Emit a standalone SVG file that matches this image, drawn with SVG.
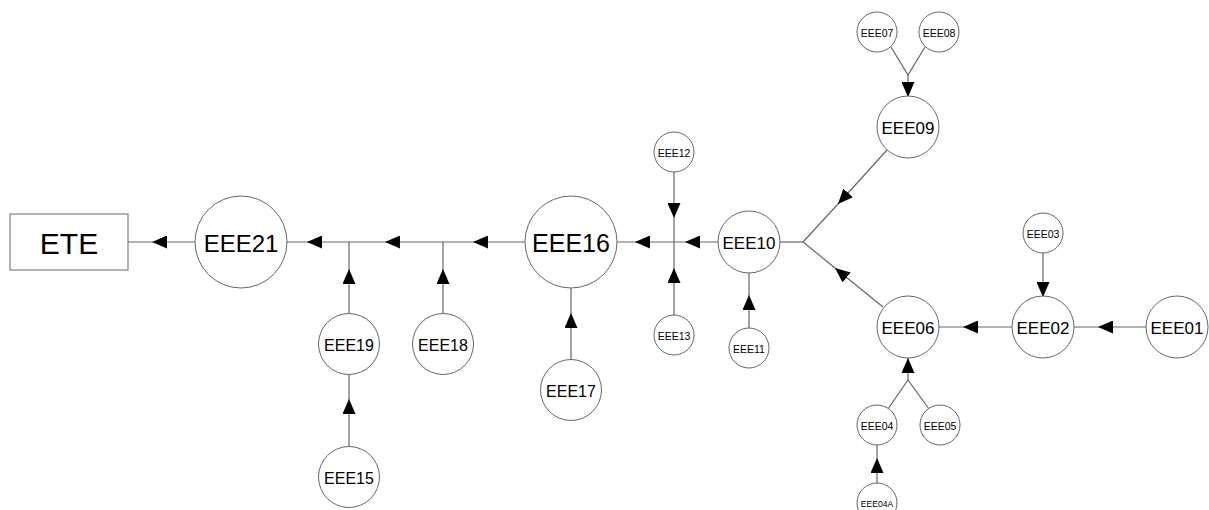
<svg xmlns="http://www.w3.org/2000/svg" width="1209" height="510" viewBox="0 0 1209 510">
<defs>
<marker id="arr" markerUnits="userSpaceOnUse" markerWidth="15" markerHeight="13" refX="15" refY="6.5" orient="auto">
<path d="M0,0 L15,6.5 L0,13 z" fill="#000"/>
</marker>
<style>
.n{fill:#fff;stroke:#666;stroke-width:1}
.c{fill:none;stroke:#666;stroke-width:1.2}
.m{marker-mid:url(#arr)}
.e{marker-end:url(#arr)}
text{font-family:"Liberation Sans",Arial,sans-serif;fill:#000;text-anchor:middle;dominant-baseline:central}
.xl{font-size:25px}
.l{font-size:17px}
.md{font-size:16px}
.s{font-size:10.5px}
.xs{font-size:8.6px}
</style>
</defs>
<rect width="1209" height="510" fill="#fff"/>
<g id="connectors">
<path class="c m" d="M195,242 L152,242 L128,242"/>
<path class="c m" d="M525,242 L473,242 L443,242"/>
<path class="c m" d="M443,242 L385,242 L349,242"/>
<path class="c m" d="M349,242 L307,242 L287,242"/>
<path class="c m" d="M349,313 L349,269 L349,242"/>
<path class="c m" d="M349,447 L349,399 L349,375"/>
<path class="c m" d="M443,313 L443,269 L443,242"/>
<path class="c m" d="M571,359 L571,313 L571,288"/>
<path class="c m" d="M674,242 L635,242 L617,242"/>
<path class="c m" d="M718,242 L685,242 L674,242"/>
<path class="c m" d="M674,172 L674,218 L674,242"/>
<path class="c m" d="M674,315 L674,268 L674,242"/>
<path class="c m" d="M749,328 L749,295 L749,273"/>
<path class="c" d="M780,242 L803,242"/>
<path class="c m" d="M887,150 L838,204 L803,242"/>
<path class="c m" d="M883,307 L835,268 L803,242"/>
<path class="c" d="M891,47 L908,75 L925,47"/>
<path class="c e" d="M908,75 L908,97"/>
<path class="c m" d="M1012,327 L963,327 L939,327"/>
<path class="c m" d="M1146,327 L1098,327 L1074,327"/>
<path class="c e" d="M1043,253 L1043,297"/>
<path class="c" d="M888,409 L908,380 L929,409"/>
<path class="c e" d="M908,380 L908,358"/>
<path class="c m" d="M877,483 L877,458 L877,445"/>
</g>
<g id="ETE"><rect class="n" x="10" y="214" width="118" height="56"/><text class="xl" x="69" y="243" style="font-size:30px">ETE</text></g>
<g id="EEE21"><circle class="n" cx="241" cy="242" r="46"/><text class="xl" x="241" y="243" style="font-size:24px">EEE21</text></g>
<g id="EEE16"><circle class="n" cx="571" cy="242" r="46"/><text class="xl" x="571" y="243">EEE16</text></g>
<g id="EEE19"><circle class="n" cx="349" cy="344" r="30.5"/><text class="md" x="349" y="345">EEE19</text></g>
<g id="EEE18"><circle class="n" cx="443" cy="344" r="30.5"/><text class="md" x="443" y="345">EEE18</text></g>
<g id="EEE15"><circle class="n" cx="349" cy="477" r="30.5"/><text class="md" x="349" y="478">EEE15</text></g>
<g id="EEE17"><circle class="n" cx="571" cy="390" r="30.5"/><text class="md" x="571" y="391">EEE17</text></g>
<g id="EEE12"><circle class="n" cx="674" cy="152" r="20"/><text class="s" x="674" y="153">EEE12</text></g>
<g id="EEE13"><circle class="n" cx="674" cy="335" r="20"/><text class="s" x="674" y="336">EEE13</text></g>
<g id="EEE10"><circle class="n" cx="749" cy="242" r="31"/><text class="l" x="749" y="243">EEE10</text></g>
<g id="EEE11"><circle class="n" cx="749" cy="348" r="20"/><text class="s" x="749" y="349">EEE11</text></g>
<g id="EEE07"><circle class="n" cx="877" cy="32" r="20"/><text class="s" x="877" y="33">EEE07</text></g>
<g id="EEE08"><circle class="n" cx="939" cy="32" r="20"/><text class="s" x="939" y="33">EEE08</text></g>
<g id="EEE09"><circle class="n" cx="908" cy="127" r="31"/><text class="l" x="908" y="128">EEE09</text></g>
<g id="EEE06"><circle class="n" cx="908" cy="327" r="31"/><text class="l" x="908" y="328">EEE06</text></g>
<g id="EEE02"><circle class="n" cx="1043" cy="327" r="31"/><text class="l" x="1043" y="328">EEE02</text></g>
<g id="EEE01"><circle class="n" cx="1177" cy="327" r="31"/><text class="l" x="1177" y="328">EEE01</text></g>
<g id="EEE03"><circle class="n" cx="1043" cy="233" r="20"/><text class="s" x="1043" y="234">EEE03</text></g>
<g id="EEE04"><circle class="n" cx="877" cy="425" r="20"/><text class="s" x="877" y="426">EEE04</text></g>
<g id="EEE05"><circle class="n" cx="940" cy="425" r="20"/><text class="s" x="940" y="426">EEE05</text></g>
<g id="EEE04A"><circle class="n" cx="877" cy="503" r="20"/><text class="xs" x="877" y="504">EEE04A</text></g>
</svg>
